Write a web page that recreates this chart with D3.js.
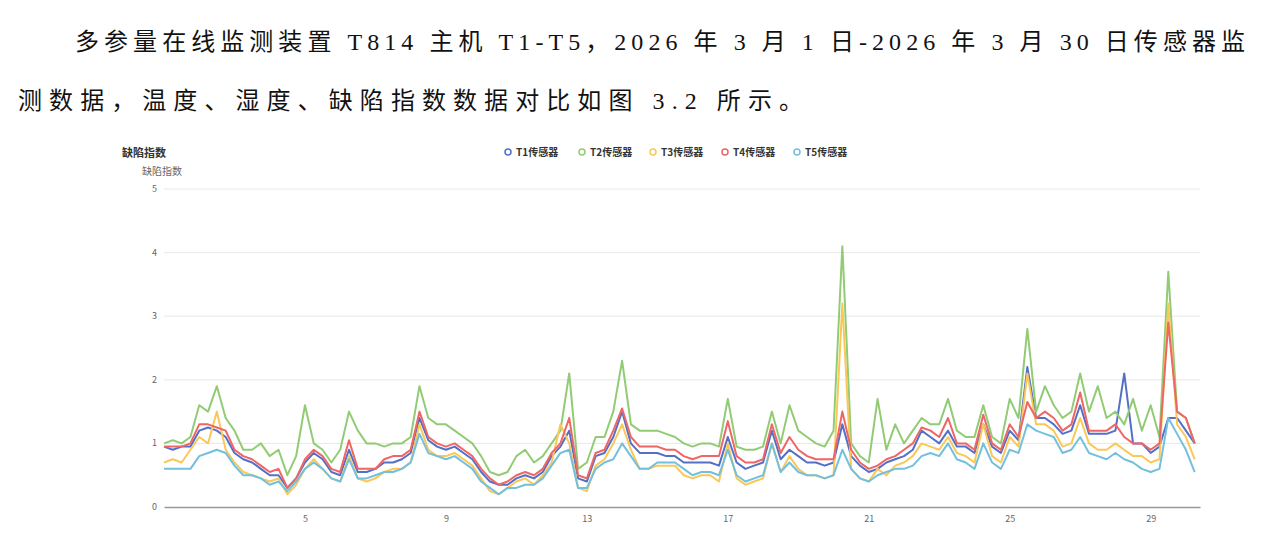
<!DOCTYPE html>
<html><head><meta charset="utf-8">
<script src="https://cdn.jsdelivr.net/npm/d3@7"></script>
<style>body{margin:0;background:#fff}svg{display:block}</style>
</head><body>
<script>
const seriesNames=["T1传感器","T2传感器","T3传感器","T4传感器","T5传感器"];
const colors=["#5470c6","#91cc75","#fac858","#ee6666","#73c0de"];
const yTicks=[0,1,2,3,4,5];
const xTicks=[5,9,13,17,21,25,29];
const startDay=1, stepDay=0.25;
const T1=[0.95,0.9,0.95,0.95,1.2,1.25,1.2,1.1,0.85,0.75,0.7,0.6,0.5,0.5,0.3,0.45,0.7,0.85,0.75,0.55,0.5,0.9,0.55,0.55,0.6,0.7,0.7,0.75,0.85,1.4,1.05,0.95,0.9,0.95,0.85,0.75,0.55,0.4,0.35,0.35,0.45,0.5,0.45,0.55,0.8,0.95,1.2,0.45,0.4,0.8,0.85,1.1,1.5,1.0,0.85,0.85,0.85,0.8,0.8,0.7,0.7,0.7,0.7,0.65,1.1,0.7,0.6,0.65,0.7,1.2,0.75,0.9,0.8,0.7,0.7,0.65,0.7,1.3,0.8,0.65,0.55,0.6,0.7,0.75,0.8,0.9,1.2,1.1,1.0,1.2,0.95,0.95,0.85,1.3,0.95,0.85,1.2,1.05,2.2,1.4,1.4,1.3,1.15,1.2,1.6,1.15,1.15,1.15,1.2,2.1,1.0,1.0,0.85,0.95,1.4,1.4,1.2,1.0];
const T2=[1.0,1.05,1.0,1.1,1.6,1.5,1.9,1.4,1.2,0.9,0.9,1.0,0.8,0.9,0.5,0.8,1.6,1.0,0.9,0.7,0.9,1.5,1.2,1.0,1.0,0.95,1.0,1.0,1.1,1.9,1.4,1.3,1.3,1.2,1.1,1.0,0.8,0.55,0.5,0.55,0.8,0.9,0.7,0.8,1.0,1.2,2.1,0.6,0.7,1.1,1.1,1.5,2.3,1.3,1.2,1.2,1.2,1.15,1.1,1.0,0.95,1.0,1.0,0.95,1.7,0.95,0.9,0.9,0.95,1.5,1.0,1.6,1.2,1.1,1.0,0.95,1.2,4.1,1.0,0.8,0.7,1.7,0.9,1.3,1.0,1.2,1.4,1.3,1.3,1.7,1.2,1.1,1.1,1.6,1.1,1.0,1.7,1.4,2.8,1.5,1.9,1.6,1.4,1.5,2.1,1.5,1.9,1.4,1.5,1.3,1.7,1.2,1.6,1.1,3.7,1.5,1.4,1.0];
const T3=[0.7,0.75,0.7,0.9,1.1,1.0,1.5,0.9,0.7,0.55,0.5,0.45,0.4,0.45,0.2,0.35,0.6,0.75,0.6,0.45,0.4,0.8,0.45,0.4,0.45,0.55,0.6,0.6,0.7,1.3,0.9,0.8,0.8,0.85,0.75,0.65,0.45,0.25,0.2,0.3,0.4,0.45,0.35,0.5,0.7,1.3,1.0,0.3,0.25,0.65,0.75,1.0,1.3,0.9,0.6,0.6,0.65,0.65,0.65,0.5,0.45,0.5,0.5,0.4,1.0,0.45,0.35,0.4,0.45,1.0,0.55,0.8,0.6,0.5,0.5,0.45,0.5,3.2,0.6,0.45,0.4,0.6,0.5,0.65,0.7,0.8,1.0,0.95,0.9,1.1,0.85,0.8,0.7,1.3,0.8,0.7,1.1,0.95,2.1,1.3,1.3,1.2,0.95,1.0,1.4,1.0,0.9,0.9,1.0,0.9,0.8,0.8,0.7,0.75,3.2,1.3,1.1,0.75];
const T4=[0.95,0.95,0.95,1.0,1.3,1.3,1.25,1.2,0.9,0.8,0.75,0.65,0.55,0.6,0.3,0.45,0.75,0.9,0.8,0.6,0.55,1.05,0.6,0.6,0.6,0.75,0.8,0.8,0.9,1.5,1.1,1.0,0.95,1.0,0.9,0.8,0.6,0.45,0.35,0.4,0.5,0.55,0.5,0.6,0.85,1.0,1.4,0.5,0.45,0.85,0.9,1.2,1.55,1.1,0.95,0.95,0.95,0.9,0.9,0.8,0.75,0.8,0.8,0.8,1.35,0.8,0.7,0.7,0.75,1.3,0.85,1.1,0.9,0.8,0.75,0.75,0.75,1.5,0.9,0.7,0.6,0.65,0.75,0.8,0.9,1.0,1.25,1.2,1.1,1.4,1.0,1.0,0.9,1.45,1.0,0.9,1.3,1.1,1.65,1.4,1.5,1.4,1.2,1.3,1.8,1.2,1.2,1.2,1.3,1.1,1.0,1.0,0.9,1.0,2.9,1.5,1.4,1.0];
const T5=[0.6,0.6,0.6,0.6,0.8,0.85,0.9,0.85,0.65,0.5,0.5,0.45,0.35,0.4,0.25,0.4,0.6,0.7,0.6,0.45,0.4,0.75,0.45,0.45,0.5,0.55,0.55,0.6,0.7,1.15,0.85,0.8,0.75,0.8,0.7,0.6,0.4,0.3,0.2,0.3,0.3,0.35,0.35,0.45,0.65,0.85,0.9,0.3,0.3,0.6,0.7,0.75,1.0,0.8,0.6,0.6,0.7,0.7,0.7,0.6,0.5,0.55,0.55,0.5,0.9,0.5,0.4,0.45,0.5,1.0,0.55,0.7,0.55,0.5,0.5,0.45,0.5,0.9,0.6,0.45,0.4,0.5,0.55,0.6,0.6,0.65,0.8,0.85,0.8,1.0,0.75,0.7,0.6,1.0,0.7,0.6,0.9,0.85,1.3,1.2,1.15,1.1,0.85,0.9,1.1,0.85,0.8,0.75,0.85,0.75,0.7,0.6,0.55,0.6,1.4,1.15,0.9,0.55];
const allSeries=[T1,T2,T3,T4,T5];

const W=1267,H=536;
const svg=d3.select("body").append("svg").attr("width",W).attr("height",H);
const cjk='"Noto Sans CJK SC","Noto Sans",sans-serif';
const body='"Liberation Serif","Noto Sans CJK SC",serif';
svg.append("text").attr("x",75).attr("y",50).attr("font-family",body).attr("font-size",24).attr("fill","#111")
  .attr("textLength",1170).attr("lengthAdjust","spacing")
  .text("多参量在线监测装置 T814 主机 T1-T5，2026 年 3 月 1 日-2026 年 3 月 30 日传感器监");
svg.append("text").attr("x",18).attr("y",109).attr("font-family",body).attr("font-size",24).attr("fill","#111")
  .attr("textLength",785).attr("lengthAdjust","spacing")
  .text("测数据，温度、湿度、缺陷指数数据对比如图 3.2 所示。");

const x=d3.scaleLinear().domain([1,30.4]).range([164,1200]);
const y=d3.scaleLinear().domain([0,5]).range([507,189]);

svg.append("text").attr("x",122).attr("y",157).attr("font-family",cjk).attr("font-size",11).attr("font-weight","bold").attr("fill","#333").text("缺陷指数");
svg.append("text").attr("x",142).attr("y",175).attr("font-family",cjk).attr("font-size",10).attr("fill","#666").text("缺陷指数");

const g=svg.append("g");
yTicks.forEach(t=>{
  if(t>0) g.append("line").attr("x1",164).attr("x2",1200).attr("y1",y(t)).attr("y2",y(t)).attr("stroke","#e8e8e8");
  g.append("text").attr("x",157).attr("y",y(t)+3).attr("text-anchor","end").attr("font-family",cjk).attr("font-size",9).attr("fill","#666").text(t);
});
const xa=svg.append("g").attr("transform","translate(0,507)")
  .call(d3.axisBottom(x).tickValues(xTicks).tickSize(0).tickPadding(9));
xa.select(".domain").attr("stroke","#999").attr("stroke-width",1.5);
xa.selectAll("text").attr("font-family",cjk).attr("font-size",9).attr("fill","#666");

const line=d3.line().x((d,i)=>x(startDay+i*stepDay)).y(d=>y(d)).curve(d3.curveLinear);
allSeries.forEach((s,k)=>{
  svg.append("path").datum(s).attr("d",line).attr("fill","none").attr("stroke",colors[k]).attr("stroke-width",2).attr("stroke-linejoin","round");
});

const lg=svg.append("g");
const lx=[508,582,653,725,797];
seriesNames.forEach((n,k)=>{
  lg.append("circle").attr("cx",lx[k]).attr("cy",152).attr("r",3).attr("fill","#fff").attr("stroke",colors[k]).attr("stroke-width",1.5);
  lg.append("text").attr("x",lx[k]+8).attr("y",156).attr("font-family",cjk).attr("font-size",10).attr("font-weight","bold").attr("fill","#333").text(n);
});
</script>
</body></html>
